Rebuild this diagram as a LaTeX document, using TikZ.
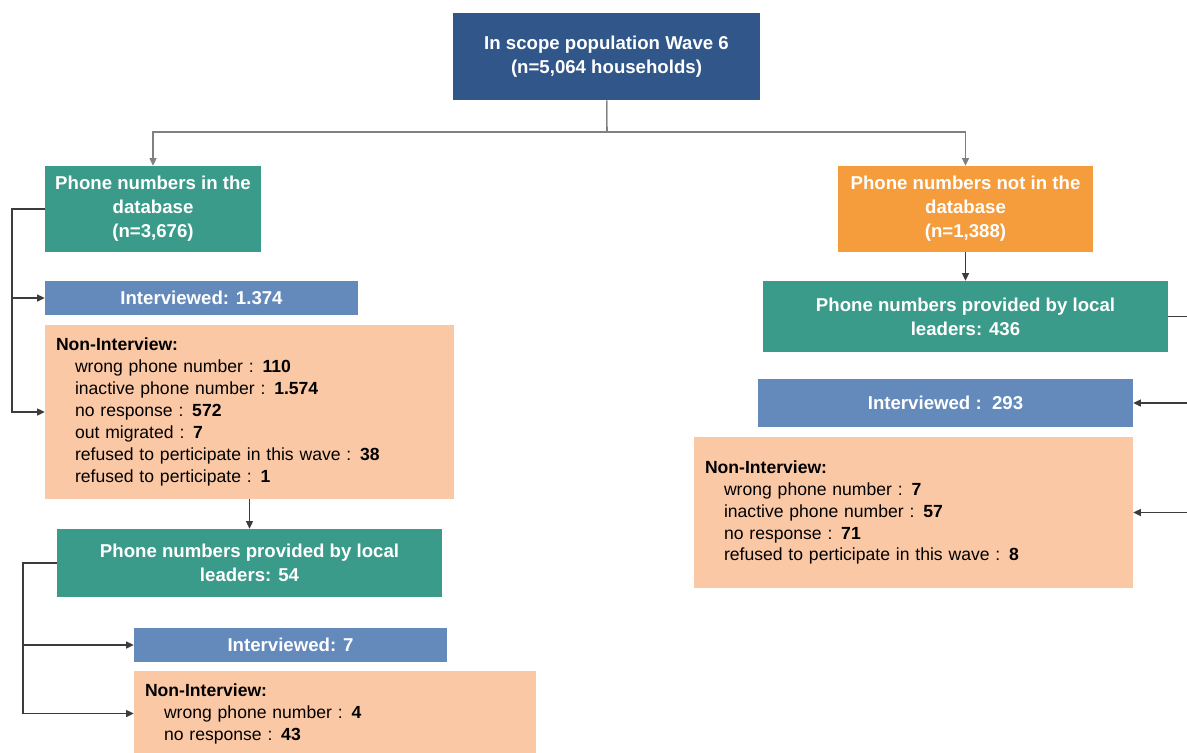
\documentclass[tikz,border=0pt]{standalone}
\usepackage{fontspec}
\setmainfont{Liberation Sans}
\usetikzlibrary{arrows.meta}
\usetikzlibrary{positioning}

\definecolor{navybox}{RGB}{49,86,137}
\definecolor{tealbox}{RGB}{59,155,138}
\definecolor{orangebox}{RGB}{245,156,60}
\definecolor{bluebox}{RGB}{100,137,187}
\definecolor{peachbox}{RGB}{251,200,165}
\definecolor{linegray}{RGB}{60,60,60}

\newcommand{\nirow}[2]{\hspace*{0.38cm}#1 : \textbf{#2}}

\begin{document}
\begin{tikzpicture}
	[x=0.02cm,y=-0.02cm,
	headbox/.style={fill=#1, text=white, font=\bfseries\fontsize{10.6}{13.6}\selectfont, align=center, inner sep=0pt},
	listbox/.style={fill=peachbox, text=black, font=\fontsize{10}{12.5}\selectfont, align=left, inner xsep=0.22cm, inner ysep=0pt},
	link/.style={draw=linegray, line width=0.6pt},
	arrow/.style={link, -{Triangle[length=1.5mm,width=1.4mm]}}]

	\useasboundingbox (0,0) rectangle (1187,752);
	\fill[white] (0,0) rectangle (1187,752);

	%Top
	\node[headbox=navybox, minimum width=6.14cm, minimum height=1.74cm] (scope) at (606.5,56.5) {In scope population Wave 6\\(n=5,064 households)};

	%Left branch
	\node[headbox=tealbox, minimum width=4.32cm, minimum height=1.72cm] (dbin) at (153,209) {Phone numbers in the\\database\\(n=3,676)};
	\node[headbox=bluebox, minimum width=6.26cm, minimum height=0.68cm] (intA) at (201.5,298) {Interviewed: 1.374};
	\node[listbox, text width=7.74cm, minimum height=3.48cm] (nonA) at (249.5,412) {\textbf{Non-Interview:}\\
		\nirow{wrong phone number}{110}\\
		\nirow{inactive phone number}{1.574}\\
		\nirow{no response}{572}\\
		\nirow{out migrated}{7}\\
		\nirow{refused to perticipate in this wave}{38}\\
		\nirow{refused to perticipate}{1}};
	\node[headbox=tealbox, minimum width=7.70cm, minimum height=1.36cm] (locA) at (249.5,563) {Phone numbers provided by local\\leaders: 54};
	\node[headbox=bluebox, minimum width=6.26cm, minimum height=0.68cm] (intB) at (290.5,645) {Interviewed: 7};
	\node[listbox, text width=7.60cm, minimum height=1.70cm] (nonB) at (335,713.5) {\textbf{Non-Interview:}\\
		\nirow{wrong phone number}{4}\\
		\nirow{no response}{43}};

	%Right branch
	\node[headbox=orangebox, minimum width=5.10cm, minimum height=1.72cm] (dbout) at (965.5,209) {Phone numbers not in the\\database\\(n=1,388)};
	\node[headbox=tealbox, minimum width=8.10cm, minimum height=1.42cm] (locR) at (965.5,316.5) {Phone numbers provided by local\\leaders: 436};
	\node[headbox=bluebox, minimum width=7.50cm, minimum height=0.96cm] (intR) at (945.5,403) {Interviewed :\ \ 293};
	\node[listbox, text width=8.34cm, minimum height=3.02cm] (nonR) at (913.5,512.5) {\textbf{Non-Interview:}\\
		\nirow{wrong phone number}{7}\\
		\nirow{inactive phone number}{57}\\
		\nirow{no response}{71}\\
		\nirow{refused to perticipate in this wave}{8}};

	%Connectors
	\coordinate (split) at (607,132);
	\coordinate (busA) at (12,209);
	\coordinate (busB) at (23,563);
	\coordinate (busR) at (1194,316.5);
	\draw[link] (scope) -- (split);
	\draw[arrow, draw=gray] (split) -| (dbin);
	\draw[arrow, draw=gray] (split) -| (dbout);
	\draw[arrow] (dbin.west) -- (busA) |- (intA);
	\draw[arrow] (busA) |- (nonA);
	\draw[arrow] (nonA) -- (locA);
	\draw[arrow] (locA.west) -- (busB) |- (intB);
	\draw[arrow] (busB) |- (nonB);
	\draw[arrow] (dbout) -- (locR);
	\draw[arrow] (locR.east) -- (busR) |- (intR);
	\draw[arrow] (busR) |- (nonR);
\end{tikzpicture}
\end{document}
